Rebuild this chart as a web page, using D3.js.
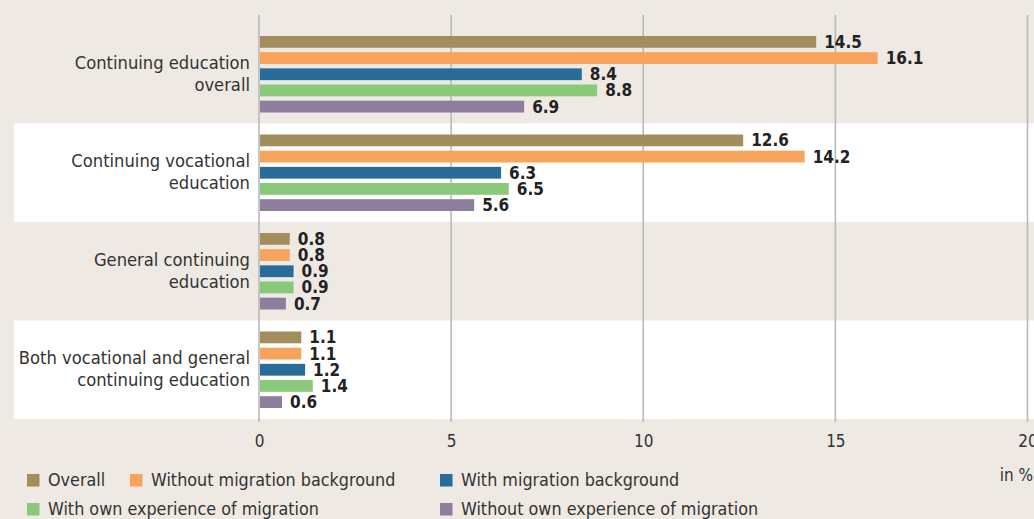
<!DOCTYPE html>
<html><head><meta charset="utf-8">
<script src="https://cdn.jsdelivr.net/npm/d3@7"></script>
<style>
html,body{margin:0;padding:0;background:#EEE9E2;}
svg{display:block;}
text{font-family:"DejaVu Sans Condensed","DejaVu Sans",sans-serif;}
</style></head>
<body>
<svg id="chart" width="1034" height="519"></svg>
<script>
const categories = [
  ["Continuing education", "overall"],
  ["Continuing vocational", "education"],
  ["General continuing", "education"],
  ["Both vocational and general", "continuing education"]
];
const seriesNames = ["Overall", "Without migration background", "With migration background", "With own experience of migration", "Without own experience of migration"];
const seriesColors = ["#A38D5D", "#F7A35C", "#286D99", "#8BC97A", "#8E7E9E"];
const values = [
  [14.5, 16.1, 8.4, 8.8, 6.9],
  [12.6, 14.2, 6.3, 6.5, 5.6],
  [0.8, 0.8, 0.9, 0.9, 0.7],
  [1.1, 1.1, 1.2, 1.4, 0.6]
];
const xTicks = [0, 5, 10, 15, 20];

const svg = d3.select("#chart");
const x = d3.scaleLinear().domain([0, 20]).range([259, 1027.5]);
const y0 = d3.scaleBand().domain(d3.range(categories.length)).range([25, 419]).padding(0);
const y1 = d3.scaleBand().domain(d3.range(seriesNames.length)).range([11, y0.bandwidth() - 11]).paddingInner(0.27).paddingOuter(0);

// white bands
svg.selectAll("rect.band").data(d3.range(categories.length).filter(i => i % 2 === 1))
  .enter().append("rect").attr("class", "band")
  .attr("x", 14).attr("width", 1034 - 14)
  .attr("y", i => y0(i)).attr("height", y0.bandwidth())
  .attr("fill", "#ffffff");

// gridlines
svg.selectAll("line.grid").data(xTicks).enter().append("line")
  .attr("x1", d => x(d)).attr("x2", d => x(d))
  .attr("y1", 15).attr("y2", 422)
  .attr("stroke", "#B9B9B9").attr("stroke-width", 1.6);

// axis labels
const axis = d3.axisBottom(x).tickValues(xTicks).tickSize(0).tickPadding(0);
const ax = svg.append("g").attr("transform", "translate(0,447)").call(axis);
ax.select(".domain").remove();
ax.selectAll("text").attr("font-size", 17).attr("fill", "#333").attr("dy", 0)
  .style("font-family", '"DejaVu Sans Condensed",sans-serif');

svg.append("text").attr("x", 1033).attr("y", 481).attr("text-anchor", "end")
  .attr("font-size", 17).attr("fill", "#333").text("in %");

// groups
const g = svg.selectAll("g.cat").data(values).enter().append("g")
  .attr("transform", (d, i) => `translate(0,${y0(i)})`);

g.selectAll("rect").data(d => d).enter().append("rect")
  .attr("x", x(0) + 1).attr("y", (d, j) => y1(j))
  .attr("width", d => x(d) - x(0) - 1).attr("height", y1.bandwidth())
  .attr("fill", (d, j) => seriesColors[j]);

g.selectAll("text.val").data(d => d).enter().append("text").attr("class", "val")
  .attr("x", d => x(d) + 8).attr("y", (d, j) => y1(j) + y1.bandwidth() / 2 + 6)
  .attr("font-size", 17).attr("font-weight", "bold").attr("fill", "#222")
  .text(d => d.toFixed(1));

// category labels
g.append("text").attr("text-anchor", "end").attr("font-size", 18.2).attr("fill", "#333")
  .selectAll("tspan").data((d, i) => categories[i]).enter().append("tspan")
  .attr("x", 250).attr("y", (t, k) => y0.bandwidth() / 2 - 5.5 + k * 22)
  .text(t => t);

// legend
const legendPos = [[27, 474], [130, 474], [440, 474], [27, 503], [440, 503]];
const lg = svg.selectAll("g.leg").data(seriesNames).enter().append("g")
  .attr("transform", (d, i) => `translate(${legendPos[i][0]},${legendPos[i][1]})`);
lg.append("rect").attr("width", 12.5).attr("height", 12.5).attr("fill", (d, i) => seriesColors[i]);
lg.append("text").attr("x", 21).attr("y", 12).attr("font-size", 17.8).attr("fill", "#333").text(d => d);
</script>
</body></html>
